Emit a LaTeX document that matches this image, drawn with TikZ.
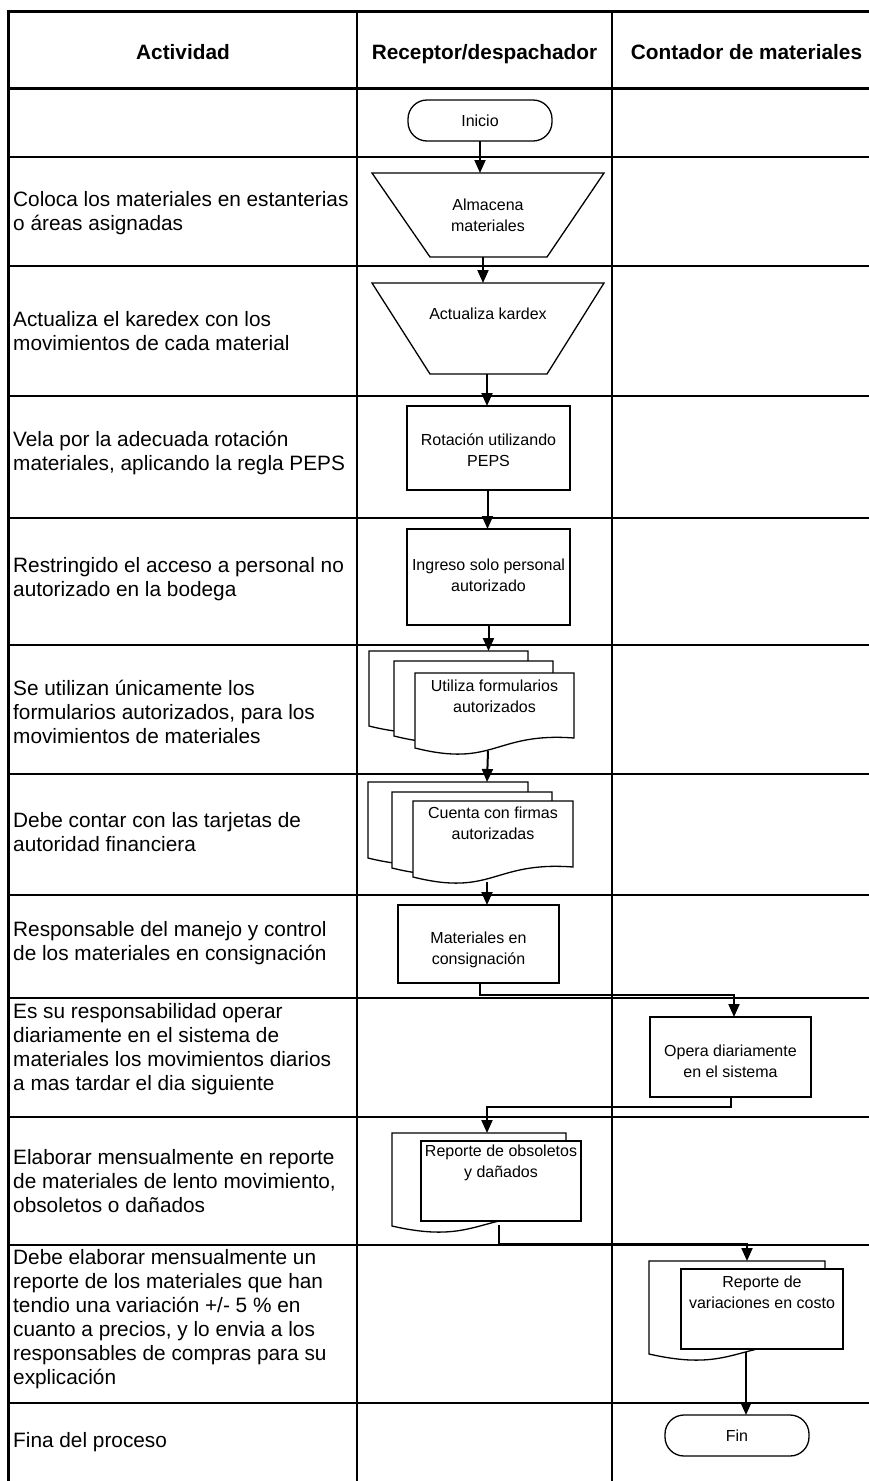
\documentclass[tikz,border=0pt]{standalone}
\usepackage{fontspec}
\setmainfont{Liberation Sans}
\usetikzlibrary{arrows.meta,calc}
\newcommand{\mydocpage}[1]{%
  \draw[shp] (#1.north west) -- (#1.north east) -- ([yshift=10pt]#1.south east)
    .. controls ($(#1.south)+(0pt,16pt)$) and ($(#1.south)+(0pt,-20pt)$) .. (#1.south west) -- cycle;}
\begin{document}
\begin{tikzpicture}[x=1pt,y=-1pt,
  tbl/.style={line width=1.3pt},
  thk/.style={line width=3pt},
  colline/.style={line width=2pt},
  body/.style={font=\fontsize{20.8pt}{24pt}\selectfont, align=left, anchor=west, inner sep=0pt},
  hdr/.style={font=\bfseries\fontsize{20.8pt}{24pt}\selectfont, inner sep=0pt, anchor=base},
  shp/.style={draw, line width=1.3pt, fill=white},
  box/.style={shp, inner sep=0pt, outer sep=0pt},
  frame/.style={inner sep=0pt, outer sep=0pt},
  term/.style={shp, rounded corners=19pt, inner sep=0pt, outer sep=0pt, minimum width=144pt, minimum height=41pt},
  stxt/.style={font=\fontsize{16pt}{21pt}\selectfont, align=center, inner sep=0pt},
  conn/.style={line width=2pt, -{Triangle[width=11pt,length=13pt]}},
]
\useasboundingbox (0,0) rectangle (869,1481);
\fill[white] (0,0) rectangle (869,1481);

% table
\draw[thk] (6.5,11) -- (869,11);
\draw[thk] (8,88) -- (869,88);
\foreach \yy in {157,266,396,518,645,774,895,998,1117,1245}
  \draw[tbl] (8,\yy) -- (869,\yy);
\draw[colline] (8,1403) -- (869,1403);
\draw[thk] (8,9.5) -- (8,1481);
\draw[colline] (357,11) -- (357,1481);
\draw[colline] (612,11) -- (612,1481);

% headers
\node[hdr] (h1) at (183,59) {Actividad};
\node[hdr] (h2) at (484.5,59) {Receptor/despachador};
\node[hdr] (h3) at (746.5,59) {Contador de materiales};

% activity texts
\node[body] (l2) at (13,213) {Coloca los materiales en estanterias\\o áreas asignadas};
\node[body] (l3) at (13,331) {Actualiza el karedex con los\\movimientos de cada material};
\node[body] (l4) at (13,452.5) {Vela por la adecuada rotación\\materiales, aplicando la regla PEPS};
\node[body] (l5) at (13,579) {Restringido el acceso a personal no\\autorizado en la bodega};
\node[body] (l6) at (13,712) {Se utilizan únicamente los\\formularios autorizados, para los\\movimientos de materiales};
\node[body] (l7) at (13,832) {Debe contar con las tarjetas de\\autoridad financiera};
\node[body] (l8) at (13,943) {Responsable del manejo y control\\de los materiales en consignación};
\node[body] (l9) at (13,1049) {Es su responsabilidad operar\\diariamente en el sistema de\\materiales los movimientos diarios\\a mas tardar el dia siguiente};
\node[body] (l10) at (13,1181) {Elaborar mensualmente en reporte\\de materiales de lento movimiento,\\obsoletos o dañados};
\node[body] (l11) at (13,1319) {Debe elaborar mensualmente un\\reporte de los materiales que han\\tendio una variación +/- 5 \% en\\cuanto a precios, y lo envia a los\\responsables de compras para su\\explicación};
\node[body] (l12) at (13,1442) {Fina del proceso};

% Inicio
\node[term] (ini) at (480,120.5) {};
\node[stxt] (init) at (ini.center) {Inicio};

% trapezoids
\node[frame, minimum width=232pt, minimum height=84pt] (t1) at (488,215) {};
\draw[shp] (t1.north west) -- (t1.north east) -- ([xshift=-57pt]t1.south east) -- ([xshift=58pt]t1.south west) -- cycle;
\node[stxt] (t1t) at (t1.center) {Almacena\\materiales};

\node[frame, minimum width=232pt, minimum height=91pt] (t2) at (488,328.5) {};
\draw[shp] (t2.north west) -- (t2.north east) -- ([xshift=-57pt]t2.south east) -- ([xshift=58pt]t2.south west) -- cycle;
\node[stxt] (t2t) at ([yshift=14.5pt]t2.center) {Actualiza kardex};

% rectangles
\node[box, minimum width=163pt, minimum height=84pt] (r1) at (488.5,448) {};
\node[stxt] (r1t) at ([yshift=-2pt]r1.center) {Rotación utilizando\\PEPS};
\node[box, minimum width=163pt, minimum height=96pt] (r2) at (488.5,577) {};
\node[stxt] (r2t) at ([yshift=2pt]r2.center) {Ingreso solo personal\\autorizado};

% multi document 1
\node[frame, minimum width=159pt, minimum height=75pt] (m1a) at (448.5,688.5) {};
\node[frame, minimum width=159pt, minimum height=75pt] (m1b) at (473.5,698.5) {};
\node[frame, minimum width=159pt, minimum height=75pt] (m1c) at (494.5,710.5) {};
\mydocpage{m1a}\mydocpage{m1b}\mydocpage{m1c}
\node[stxt] (m1t) at ([yshift=14.5pt]m1c.center) {Utiliza formularios\\autorizados};

% multi document 2
\node[frame, minimum width=160pt, minimum height=76pt] (m2a) at (448,820) {};
\node[frame, minimum width=160pt, minimum height=76pt] (m2b) at (472,830) {};
\node[frame, minimum width=160pt, minimum height=76pt] (m2c) at (493,839) {};
\mydocpage{m2a}\mydocpage{m2b}\mydocpage{m2c}
\node[stxt] (m2t) at ([yshift=16pt]m2c.center) {Cuenta con firmas\\autorizadas};

% rect 3 and 4
\node[box, minimum width=161pt, minimum height=78pt] (r3) at (478.5,944) {};
\node[stxt] (r3t) at ([yshift=-6pt]r3.center) {Materiales en\\consignación};
\node[box, minimum width=161pt, minimum height=80pt] (r4) at (730.5,1057) {};
\node[stxt] (r4t) at ([yshift=-4pt]r4.center) {Opera diariamente\\en el sistema};

% document 3
\node[frame, minimum width=174pt, minimum height=93pt] (d3a) at (479,1179.5) {};
\mydocpage{d3a}
\node[box, minimum width=160pt, minimum height=80pt] (d3b) at (501,1181) {};
\node[stxt] (d3t) at ([yshift=18pt]d3b.center) {Reporte de obsoletos\\y dañados};

% document 4
\node[frame, minimum width=176pt, minimum height=93pt] (d4a) at (737,1307.5) {};
\mydocpage{d4a}
\node[box, minimum width=162pt, minimum height=80pt] (d4b) at (762,1309) {};
\node[stxt] (d4t) at ([yshift=17pt]d4b.center) {Reporte de\\variaciones en costo};

% Fin
\node[term] (fin) at (737,1435.5) {};
\node[stxt] (fint) at (fin.center) {Fin};

% connectors
\draw[conn] (ini.south) -- (ini.south |- t1.north);
\draw[conn] ([xshift=-5pt]t1.south) -- ([xshift=-5pt]t1.south |- t2.north);
\draw[conn] ([xshift=-1pt]t2.south) -- ([xshift=-1pt]t2.south |- r1.north);
\draw[conn] ([xshift=-1pt]r1.south) -- ([xshift=-1pt]r1.south |- r2.north);
\draw[conn] (r2.south) -- (r2.south |- m1a.north);
\draw[conn] ([shift={(-6.5pt,-3pt)}]m1c.south) -- ([xshift=-7.5pt]m1c.south |- m2a.north);
\draw[conn] ([shift={(-6pt,-5pt)}]m2c.south) -- ([xshift=-6pt]m2c.south |- r3.north);
\draw[conn] ([xshift=1.5pt]r3.south) -- ++(0,12) -| ([xshift=3.5pt]r4.north);
\draw[conn] (r4.south) -- ++(0,10) -| ([xshift=8pt]d3a.north);
\draw[conn] ([shift={(-2pt,-4pt)}]d3b.south) -- ++(0,19) -| ([xshift=10pt]d4a.north);
\draw[conn] ([shift={(-16pt,-3pt)}]d4b.south) -- ([xshift=-16pt]d4b.south |- fin.north);
\end{tikzpicture}
\end{document}
